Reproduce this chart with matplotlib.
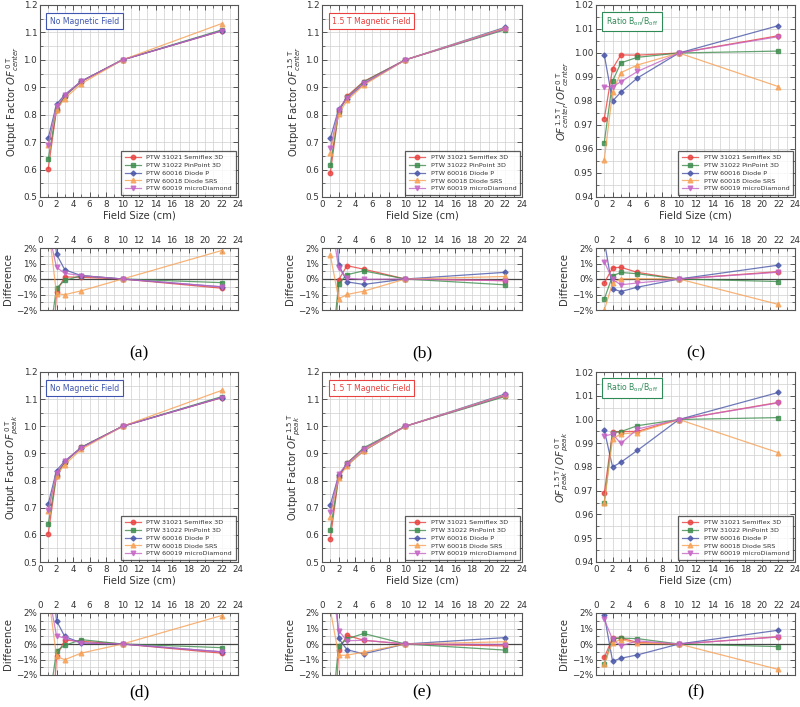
import numpy as np
import matplotlib
matplotlib.use("Agg")
import matplotlib.pyplot as plt
from matplotlib.ticker import MultipleLocator, FuncFormatter

field_sizes = [1, 2, 3, 5, 10, 22]
detectors = ["PTW 31021 Semiflex 3D", "PTW 31022 PinPoint 3D", "PTW 60016 Diode P",
             "PTW 60018 Diode SRS", "PTW 60019 microDiamond"]

# (a) OF center, 0 T
of_center_0T = [
    [0.603, 0.818, 0.869, 0.921, 1.000, 1.105],
    [0.638, 0.820, 0.867, 0.922, 1.000, 1.109],
    [0.715, 0.838, 0.873, 0.922, 1.000, 1.106],
    [0.690, 0.817, 0.859, 0.913, 1.000, 1.132],
    [0.688, 0.831, 0.871, 0.922, 1.000, 1.106],
]
# (b) OF center, 1.5 T
of_center_15T = [
    [0.587, 0.813, 0.868, 0.921, 1.000, 1.113],
    [0.615, 0.811, 0.863, 0.920, 1.000, 1.110],
    [0.714, 0.821, 0.859, 0.912, 1.000, 1.119],
    [0.661, 0.803, 0.852, 0.908, 1.000, 1.116],
    [0.678, 0.819, 0.861, 0.915, 1.000, 1.113],
]
# (c) ratio center
ratio_center = [
    [0.9727, 0.9935, 0.9992, 0.9991, 1.0, 1.0072],
    [0.9627, 0.9883, 0.9959, 0.9982, 1.0, 1.0008],
    [0.9992, 0.9800, 0.9837, 0.9896, 1.0, 1.0114],
    [0.9556, 0.9837, 0.9918, 0.9950, 1.0, 0.9860],
    [0.9860, 0.9860, 0.9880, 0.9923, 1.0, 1.0068],
]
# (d) OF peak, 0 T
of_peak_0T = [
    [0.604, 0.818, 0.870, 0.922, 1.000, 1.105],
    [0.639, 0.821, 0.867, 0.923, 1.000, 1.109],
    [0.714, 0.837, 0.872, 0.921, 1.000, 1.106],
    [0.689, 0.818, 0.859, 0.915, 1.000, 1.132],
    [0.690, 0.829, 0.871, 0.921, 1.000, 1.106],
]
# (e) OF peak, 1.5 T
of_peak_15T = [
    [0.585, 0.814, 0.865, 0.917, 1.000, 1.113],
    [0.617, 0.816, 0.863, 0.921, 1.000, 1.110],
    [0.711, 0.820, 0.857, 0.909, 1.000, 1.119],
    [0.667, 0.811, 0.854, 0.910, 1.000, 1.116],
    [0.683, 0.824, 0.862, 0.917, 1.000, 1.114],
]
# (f) ratio peak
ratio_peak = [
    [0.9690, 0.9949, 0.9949, 0.9950, 1.0, 1.0072],
    [0.9650, 0.9944, 0.9949, 0.9974, 1.0, 1.0008],
    [0.9955, 0.9800, 0.9820, 0.9870, 1.0, 1.0114],
    [0.9650, 0.9919, 0.9939, 0.9945, 1.0, 0.9860],
    [0.9930, 0.9939, 0.9899, 0.9960, 1.0, 1.0070],
]

colors = ["#e8413f", "#3e8c4e", "#4a57a8", "#f7a055", "#c565c5"]
markers = ["o", "s", "D", "^", "v"]
msizes = [3.2, 3.0, 2.6, 3.4, 3.4]

plt.rcParams["font.family"] = ["DejaVu Sans"]
plt.rcParams["mathtext.fontset"] = "dejavusans"

W, H = 800, 707
fig = plt.figure(figsize=(W / 100, H / 100), dpi=100)

cols_px = [(40, 238), (322, 522), (596, 795)]
rows_px = [((5, 197), (248, 310), 353), ((372, 562), (613, 675), 692)]


def ax_px(x0, x1, y0, y1):
    return fig.add_axes([x0 / W, 1 - y1 / H, (x1 - x0) / W, (y1 - y0) / H])


TICK_FS = 6.3
LAB_FS = 7.2


def style(ax):
    ax.set_axisbelow(True)
    ax.grid(True, which="both", color="#cfcfcf", lw=0.5)
    ax.tick_params(which="both", direction="in", top=True, right=True,
                   labelsize=TICK_FS, color="#555555", pad=2)
    ax.tick_params(which="major", length=3.5, width=0.7)
    ax.tick_params(which="minor", length=2, width=0.6)
    for s in ax.spines.values():
        s.set_color("#555555")
        s.set_linewidth(0.8)


panels = [
    (of_center_0T, "main", "No Magnetic Field", "#3f55b0",
     r"Output Factor $\mathit{OF}_{\mathit{center}}^{\,\mathrm{0\ T}}$", "(a)"),
    (of_center_15T, "main", "1.5 T Magnetic Field", "#e8413f",
     r"Output Factor $\mathit{OF}_{\mathit{center}}^{\,\mathrm{1.5\ T}}$", "(b)"),
    (ratio_center, "ratio", r"Ratio B$_{\mathrm{on}}$/B$_{\mathrm{off}}$", "#2e8b57",
     r"$\mathit{OF}_{\mathit{center}}^{\,\mathrm{1.5\ T}}/\,\mathit{OF}_{\mathit{center}}^{\,\mathrm{0\ T}}$", "(c)"),
    (of_peak_0T, "main", "No Magnetic Field", "#3f55b0",
     r"Output Factor $\mathit{OF}_{\mathit{peak}}^{\,\mathrm{0\ T}}$", "(d)"),
    (of_peak_15T, "main", "1.5 T Magnetic Field", "#e8413f",
     r"Output Factor $\mathit{OF}_{\mathit{peak}}^{\,\mathrm{1.5\ T}}$", "(e)"),
    (ratio_peak, "ratio", r"Ratio B$_{\mathrm{on}}$/B$_{\mathrm{off}}$", "#2e8b57",
     r"$\mathit{OF}_{\mathit{peak}}^{\,\mathrm{1.5\ T}}/\,\mathit{OF}_{\mathit{peak}}^{\,\mathrm{0\ T}}$", "(f)"),
]


def pct(v, pos):
    s = f"{v:.0f}%"
    return s.replace("-", "\u2212")


for i, (data, kind, boxtxt, boxcol, ylab, letter) in enumerate(panels):
    r, c = divmod(i, 3)
    x0, x1 = cols_px[c]
    (my0, my1), (dy0, dy1), ly = rows_px[r]
    ax = ax_px(x0, x1, my0, my1)
    style(ax)
    vals = np.array(data)
    for k in range(len(detectors)):
        ax.plot(field_sizes, vals[k], color=colors[k], lw=0.9, alpha=0.8,
                marker=markers[k], ms=msizes[k], mfc=colors[k], mec=colors[k],
                label=detectors[k])
    ax.set_xlim(0, 24)
    ax.xaxis.set_major_locator(MultipleLocator(2))
    ax.xaxis.set_minor_locator(MultipleLocator(1))
    if kind == "main":
        ax.set_ylim(0.5, 1.2)
        ax.yaxis.set_major_locator(MultipleLocator(0.1))
        ax.yaxis.set_minor_locator(MultipleLocator(0.05))
        ax.yaxis.set_major_formatter(FuncFormatter(lambda v, p: f"{v:.1f}"))
    else:
        ax.set_ylim(0.94, 1.02)
        ax.yaxis.set_major_locator(MultipleLocator(0.01))
        ax.yaxis.set_minor_locator(MultipleLocator(0.005))
        ax.yaxis.set_major_formatter(FuncFormatter(lambda v, p: f"{v:.2f}"))
    ax.set_xlabel("Field Size (cm)", fontsize=LAB_FS, labelpad=1.5, color="#333333")
    ax.set_ylabel(ylab, fontsize=LAB_FS, labelpad=2, color="#333333")
    ax.text(0.05, 0.915, boxtxt, transform=ax.transAxes, fontsize=5.6,
            color=boxcol, va="center", ha="left",
            bbox=dict(boxstyle="square,pad=0.45", fc="white", ec=boxcol, lw=0.8))
    leg = ax.legend(loc="lower right", fontsize=4.6, frameon=True, fancybox=False,
                    borderaxespad=0.3, handlelength=2.6, labelspacing=0.35,
                    borderpad=0.6, handletextpad=0.8)
    leg.get_frame().set_edgecolor("#333333")
    leg.get_frame().set_linewidth(0.9)
    for t in leg.get_texts():
        t.set_color("#333333")

    # difference panel: relative deviation from the mean of all detectors
    axd = ax_px(x0, x1, dy0, dy1)
    style(axd)
    mean = vals.mean(axis=0)
    diff = (vals / mean - 1.0) * 100.0
    axd.axhline(0, color="#444444", lw=0.9, zorder=1.5)
    for k in range(len(detectors)):
        axd.plot(field_sizes, diff[k], color=colors[k], lw=0.9, alpha=0.8,
                 marker=markers[k], ms=msizes[k], mfc=colors[k], mec=colors[k])
    axd.set_xlim(0, 24)
    axd.set_ylim(-2, 2)
    axd.xaxis.set_major_locator(MultipleLocator(2))
    axd.xaxis.set_minor_locator(MultipleLocator(1))
    axd.yaxis.set_major_locator(MultipleLocator(1))
    axd.yaxis.set_minor_locator(MultipleLocator(0.5))
    axd.yaxis.set_major_formatter(FuncFormatter(pct))
    axd.tick_params(axis="x", labeltop=True, labelbottom=False)
    axd.set_ylabel("Difference", fontsize=LAB_FS, labelpad=2, color="#333333")
    for a in (ax, axd):
        for t in a.get_xticklabels() + a.get_yticklabels():
            t.set_color("#333333")

    fig.text((x0 + x1) / 2 / W, 1 - ly / H, letter, ha="center", va="center",
             fontsize=12.5, family="Liberation Serif")

fig.savefig("out.png", dpi=100)
